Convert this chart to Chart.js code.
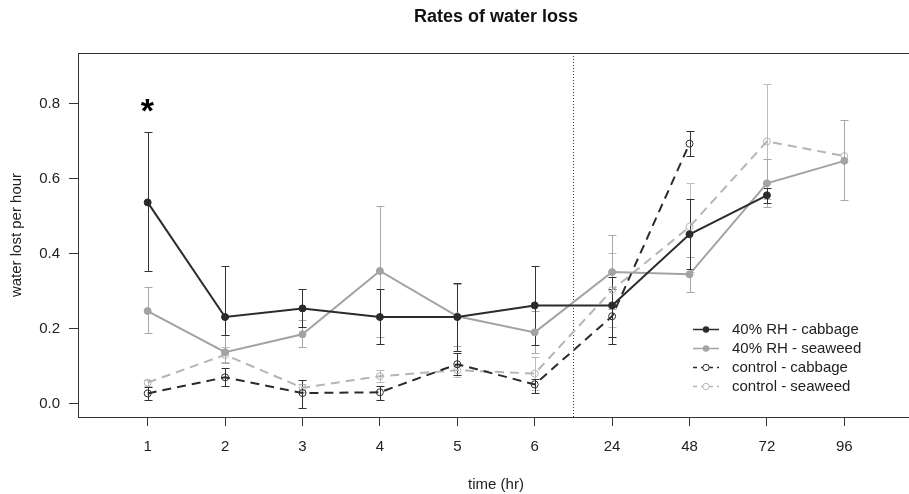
<!DOCTYPE html>
<html><head><meta charset="utf-8">
<script src="https://cdn.jsdelivr.net/npm/chart.js@4.4.1/dist/chart.umd.min.js"></script>
<style>
html,body{margin:0;padding:0;background:#fff;overflow:hidden;width:909px;height:494px}
#wrap{position:relative;width:930px;height:494px}
canvas{display:block}
</style></head>
<body><div id="wrap"><canvas id="c" width="930" height="494" style="width:930px;height:494px"></canvas></div>
<script>
// ---- data ----
const timeLabels = ["1","2","3","4","5","6","24","48","72","96"];
const yTickValues = [0.0, 0.2, 0.4, 0.6, 0.8];

const rhCabbage      = [0.537, 0.231, 0.254, 0.231, 0.231, 0.262, 0.262, 0.452, 0.556, null];
const rhCabbageHigh  = [0.725, 0.368, 0.307, 0.305, 0.322, 0.367, 0.338, 0.546, 0.575, null];
const rhCabbageLow   = [0.354, 0.184, 0.203, 0.158, 0.140, 0.156, 0.178, 0.359, 0.535, null];

const rhSeaweed      = [0.247, 0.137, 0.185, 0.354, 0.233, 0.190, 0.351, 0.345, 0.588, 0.648];
const rhSeaweedHigh  = [0.310, 0.184, 0.222, 0.528, 0.318, 0.246, 0.449, 0.392, 0.652, 0.756];
const rhSeaweedLow   = [0.187, 0.108, 0.150, 0.178, 0.153, 0.134, 0.253, 0.298, 0.524, 0.543];

const ctlCabbage     = [0.027, 0.070, 0.028, 0.030, 0.105, 0.051, 0.233, 0.694, null, null];
const ctlCabbageHigh = [0.044, 0.094, 0.062, 0.046, 0.135, 0.065, 0.307, 0.729, null, null];
const ctlCabbageLow  = [0.009, 0.047, -0.011, 0.009, 0.075, 0.028, 0.159, 0.661, null, null];

const ctlSeaweed     = [0.056, 0.130, 0.042, 0.073, 0.089, 0.080, 0.303, 0.472, 0.700, 0.661];
const ctlSeaweedHigh = [0.062, 0.150, 0.053, 0.089, 0.100, 0.123, 0.401, 0.590, 0.853, null];
const ctlSeaweedLow  = [0.048, 0.110, 0.030, 0.058, 0.071, 0.037, 0.205, 0.352, 0.547, null];

const seriesNames = ["40% RH - cabbage", "40% RH - seaweed", "control - cabbage", "control - seaweed"];
const breakAfter = 5.5;            // dotted separator between "6" and "24"
const starMark = { x: 0, y: 0.795 }; // significance asterisk at time 1

// ---- styles ----
const FONT = "'Liberation Sans', Arial, sans-serif";
const DARK = '#2b2b2b', GREY = '#a3a3a3', LIGHT = '#b5b5b5';

const toPts = arr => arr.map((v, k) => ({ x: k, y: v }));

function mkSet(label, vals, lo, hi, color, errColor, dashed, filled) {
  return {
    label, data: toPts(vals), errLow: lo, errHigh: hi, errColor,
    borderColor: color, backgroundColor: filled ? color : 'rgba(0,0,0,0)',
    borderWidth: 2, borderDash: dashed ? [9, 6] : [],
    pointRadius: 3.5, pointBorderWidth: 1,
    pointBackgroundColor: filled ? color : 'rgba(255,255,255,0)',
    pointBorderColor: color, pointHoverRadius: 3.5,
    showLine: true, tension: 0, spanGaps: false, dashedLegend: dashed, filled
  };
}

const datasets = [
  mkSet(seriesNames[0], rhCabbage, rhCabbageLow, rhCabbageHigh, DARK, '#333', false, true),
  mkSet(seriesNames[1], rhSeaweed, rhSeaweedLow, rhSeaweedHigh, GREY, '#a8a8a8', false, true),
  mkSet(seriesNames[2], ctlCabbage, ctlCabbageLow, ctlCabbageHigh, DARK, '#333', true, false),
  mkSet(seriesNames[3], ctlSeaweed, ctlSeaweedLow, ctlSeaweedHigh, LIGHT, '#bdbdbd', true, false)
];

const framePlugin = {
  id: 'frame',
  beforeDatasetsDraw(chart) {
    const { ctx, chartArea: a, scales: { x } } = chart;
    ctx.save();
    ctx.strokeStyle = '#333'; ctx.lineWidth = 1;
    ctx.strokeRect(Math.round(a.left) + 0.5, Math.round(a.top) + 0.5, Math.round(a.right - a.left), Math.round(a.bottom - a.top));
    const bx = Math.round(x.getPixelForValue(breakAfter)) + 0.5;
    ctx.setLineDash([1, 2]);
    ctx.beginPath(); ctx.moveTo(bx, a.top); ctx.lineTo(bx, a.bottom); ctx.stroke();
    ctx.restore();
  }
};

const errPlugin = {
  id: 'errbars',
  beforeDatasetsDraw(chart) {
    const { ctx, scales: { x, y } } = chart;
    const ds = chart.data.datasets;
    ctx.save();
    ctx.lineWidth = 1; ctx.setLineDash([]);
    for (let i = ds.length - 1; i >= 0; i--) {
      const d = ds[i];
      ctx.strokeStyle = d.errColor;
      for (let k = 0; k < d.errLow.length; k++) {
        if (d.errLow[k] == null || d.errHigh[k] == null) continue;
        const px = Math.round(x.getPixelForValue(k)) + 0.5;
        const y1 = Math.round(y.getPixelForValue(d.errLow[k])) + 0.5;
        const y2 = Math.round(y.getPixelForValue(d.errHigh[k])) + 0.5;
        ctx.beginPath();
        ctx.moveTo(px, y1); ctx.lineTo(px, y2);
        ctx.moveTo(px - 4, y1); ctx.lineTo(px + 4, y1);
        ctx.moveTo(px - 4, y2); ctx.lineTo(px + 4, y2);
        ctx.stroke();
      }
    }
    ctx.restore();
  }
};

const decoPlugin = {
  id: 'deco',
  afterDraw(chart) {
    const { ctx, chartArea: a, scales: { x, y } } = chart;
    ctx.save();
    // title
    ctx.fillStyle = '#111';
    ctx.font = 'bold 18px ' + FONT;
    ctx.textAlign = 'center'; ctx.textBaseline = 'middle';
    ctx.fillText('Rates of water loss', (a.left + a.right) / 2, 17);
    // asterisk
    ctx.font = 'bold 34px ' + FONT;
    ctx.textAlign = 'left'; ctx.textBaseline = 'alphabetic';
    const m = ctx.measureText('*');
    const cx = x.getPixelForValue(starMark.x), cy = y.getPixelForValue(starMark.y);
    const w = m.actualBoundingBoxRight + m.actualBoundingBoxLeft;
    const h = m.actualBoundingBoxAscent + m.actualBoundingBoxDescent;
    ctx.fillStyle = '#000';
    ctx.fillText('*', cx - w / 2 + m.actualBoundingBoxLeft, cy + h / 2 - m.actualBoundingBoxDescent);
    // legend
    const lx0 = 693, lx1 = 719, tx = 732, ly0 = 329, dy = 19;
    chart.data.datasets.forEach((d, i) => {
      const yy = ly0 + dy * i;
      ctx.strokeStyle = d.borderColor; ctx.lineWidth = 1.5;
      ctx.setLineDash(d.dashedLegend ? [4, 4] : []);
      ctx.beginPath(); ctx.moveTo(lx0, yy + 0.5); ctx.lineTo(lx1, yy + 0.5); ctx.stroke();
      ctx.setLineDash([]);
      ctx.beginPath(); ctx.arc((lx0 + lx1) / 2, yy + 0.5, 3.2, 0, Math.PI * 2);
      if (d.filled) { ctx.fillStyle = d.borderColor; ctx.fill(); }
      else { ctx.fillStyle = '#fff'; ctx.fill(); ctx.lineWidth = 1; ctx.stroke(); }
      ctx.fillStyle = '#222'; ctx.font = '15px ' + FONT;
      ctx.textAlign = 'left'; ctx.textBaseline = 'middle';
      ctx.fillText(d.label, tx, yy + 1);
    });
    ctx.restore();
  }
};

new Chart(document.getElementById('c'), {
  type: 'scatter',
  data: { datasets },
  options: {
    responsive: false, animation: false, devicePixelRatio: 1,
    layout: { padding: { left: 0, top: 53, right: 16, bottom: 0 } },
    plugins: { legend: { display: false }, title: { display: false }, tooltip: { enabled: false } },
    scales: {
      x: {
        type: 'linear', min: -0.9, max: 9.9,
        afterBuildTicks: s => { s.ticks = timeLabels.map((_, k) => ({ value: k })); },
        afterFit: s => { s.height = 77; },
        ticks: { callback: v => timeLabels[v], font: { family: FONT, size: 15 }, color: '#222', padding: 12, autoSkip: false, maxRotation: 0 },
        grid: { drawOnChartArea: false, drawTicks: true, tickLength: 9, tickColor: '#333', color: '#333' },
        border: { display: false },
        title: { display: true, text: 'time (hr)', font: { family: FONT, size: 15 }, color: '#222', padding: { top: 1, bottom: 0 } }
      },
      y: {
        type: 'linear', min: -0.036, max: 0.936,
        afterBuildTicks: s => { s.ticks = yTickValues.map(v => ({ value: v })); },
        afterFit: s => { s.width = 78; },
        ticks: { callback: v => v.toFixed(1), font: { family: FONT, size: 15 }, color: '#222', padding: 9 },
        grid: { drawOnChartArea: false, drawTicks: true, tickLength: 9, tickColor: '#333', color: '#333' },
        border: { display: false },
        title: { display: true, text: 'water lost per hour', font: { family: FONT, size: 15 }, color: '#222', padding: { top: 7.5, bottom: 0 } }
      }
    }
  },
  plugins: [framePlugin, errPlugin, decoPlugin]
});
</script>
</body></html>
